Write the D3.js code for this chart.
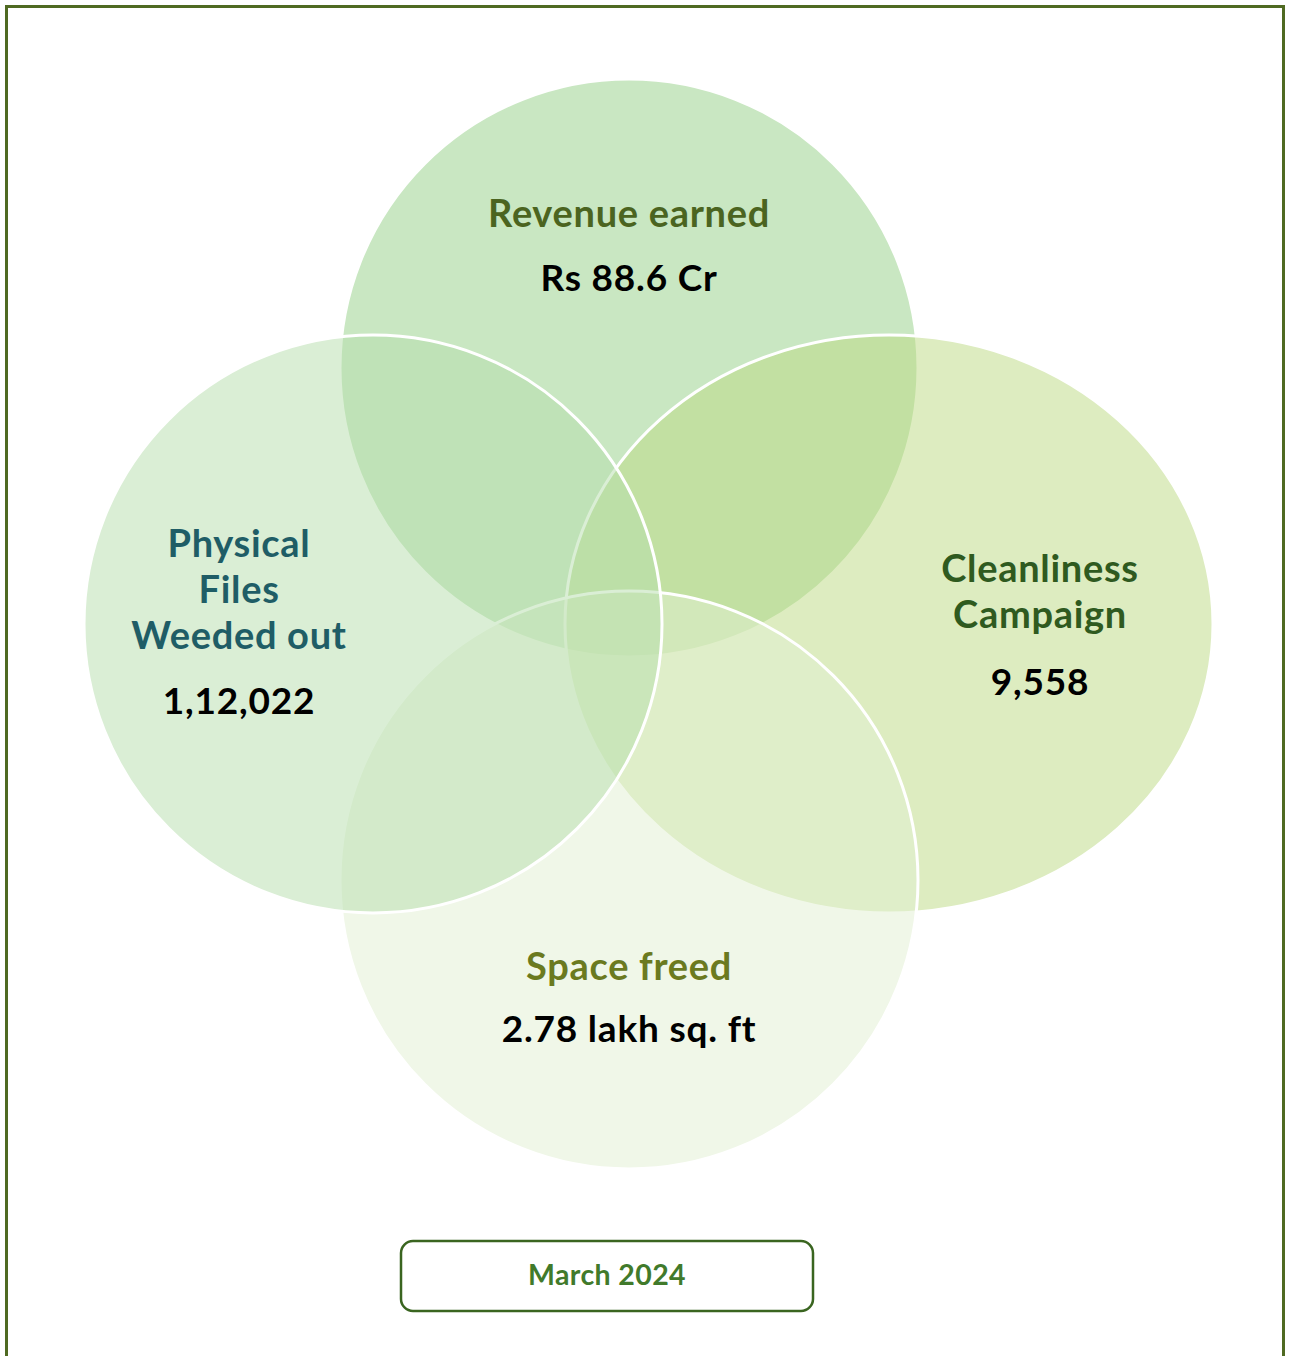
<!DOCTYPE html>
<html>
<head>
<meta charset="utf-8">
<script src="https://cdn.jsdelivr.net/npm/d3@7"></script>
<style>
  html, body { margin: 0; padding: 0; background: #fff; }
  svg { display: block; }
</style>
</head>
<body>
<div id="chart"></div>
<script>
// ---- data ----
const categories = [["Revenue earned"], ["Cleanliness", "Campaign"], ["Space freed"], ["Physical", "Files", "Weeded out"]];
const values = ["Rs 88.6 Cr", "9,558", "2.78 lakh sq. ft", "1,12,022"];
const period = "March 2024";

// ---- layout (unit positions of each set in the diagram) ----
const unitX = [0, 1, 0, -1];
const unitY = [-1, 0, 1, 0];
const fills = ["#93cf85", "#bbd981", "#e1efd1", "#b5ddab"];
const titleColors = ["#4b6420", "#2f5a1f", "#6b7a1f", "#1f5d66"];

const W = 1290, H = 1356;
const svg = d3.select("#chart").append("svg").attr("width", W).attr("height", H);

// outer frame
svg.append("rect").attr("x", 6.5).attr("y", 6.5).attr("width", 1277).attr("height", H + 20)
  .attr("fill", "none").attr("stroke", "#4f6a22").attr("stroke-width", 3);

const x = d3.scaleLinear().domain([-1, 1]).range([373, 885]);
const y = d3.scaleLinear().domain([-1, 1]).range([368, 880]);
const r = 289;
const rxExtra = [0, 35, 0, 0];

const sets = categories.map((c, i) => ({ lines: c, value: values[i], ux: unitX[i], uy: unitY[i], fill: fills[i], tc: titleColors[i], rx: r + rxExtra[i] }));

svg.append("g").selectAll("ellipse").data(sets).join("ellipse")
  .attr("cx", d => x(d.ux) + (d.ux > 0 ? 4 : 0))
  .attr("cy", d => y(d.uy))
  .attr("rx", d => d.rx)
  .attr("ry", r)
  .attr("fill", d => d.fill)
  .attr("fill-opacity", 0.5)
  .attr("stroke", "#ffffff")
  .attr("stroke-width", 3);

// label anchor offsets from each set's centre
const labelDX = [0, 155, 0, -134];
const labelTop = [227, 582, 980, 557]; // baseline of first title line
const lineGap = 46;
const valueGap = [64, 67, 62, 65];

const font = "Lato, 'Open Sans', sans-serif";
const labels = svg.append("g");
sets.forEach((d, i) => {
  const cx = x(d.ux) + labelDX[i];
  d.lines.forEach((ln, j) => {
    labels.append("text")
      .attr("x", cx).attr("y", labelTop[i] + j * lineGap)
      .attr("text-anchor", "middle")
      .attr("font-family", font).attr("font-weight", 700).attr("font-size", 38)
      .attr("letter-spacing", 0.7)
      .attr("fill", d.tc).text(ln);
  });
  labels.append("text")
    .attr("x", cx).attr("y", labelTop[i] + (d.lines.length - 1) * lineGap + valueGap[i])
    .attr("text-anchor", "middle")
    .attr("font-family", font).attr("font-weight", 700).attr("font-size", 37)
    .attr("letter-spacing", 0.8)
    .attr("fill", "#000").text(d.value);
});

// period badge
svg.append("rect").attr("x", 401).attr("y", 1241).attr("width", 412).attr("height", 70)
  .attr("rx", 12).attr("fill", "#fff").attr("stroke", "#3a6520").attr("stroke-width", 2.5);
svg.append("text").attr("x", 607).attr("y", 1285).attr("text-anchor", "middle")
  .attr("font-family", font).attr("font-weight", 700).attr("font-size", 28.5)
  .attr("letter-spacing", 0.4)
  .attr("fill", "#417a2b").text(period);
</script>
</body>
</html>
